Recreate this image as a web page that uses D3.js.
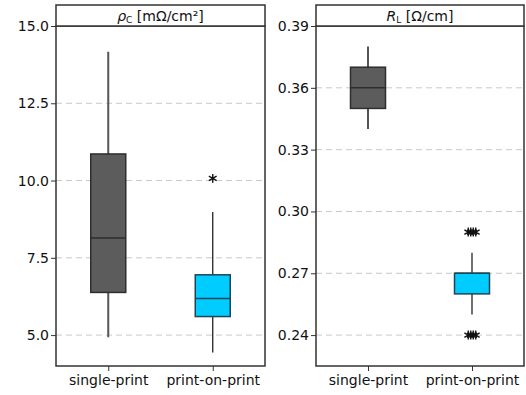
<!DOCTYPE html>
<html>
<head>
<meta charset="utf-8">
<script src="https://cdn.jsdelivr.net/npm/d3@7"></script>
<style>
  body { margin: 0; background: #fff; }
  svg { font-family: "DejaVu Sans", Verdana, sans-serif; }
</style>
</head>
<body>
<script>
// Categories on the x axis
var categories = ['single-print', 'print-on-print'];

// Contact resistivity rho_C [mOhm/cm2], box stats per category
var rhoLow  = [4.93, 4.44];
var rhoQ1   = [6.38, 5.60];
var rhoMed  = [8.14, 6.18];
var rhoQ3   = [10.86, 6.95];
var rhoHigh = [14.17, 8.98];
var rhoOut  = [[], [10.07]];
var rhoTicks = [5.0, 7.5, 10.0, 12.5, 15.0];

// Line resistance R_L [Ohm/cm], box stats per category
var rlLow  = [0.34, 0.25];
var rlQ1   = [0.35, 0.26];
var rlMed  = [0.36, 0.27];
var rlQ3   = [0.37, 0.27];
var rlHigh = [0.38, 0.28];
var rlOut  = [[], [0.29, 0.29, 0.29, 0.29, 0.24, 0.24, 0.24, 0.24]];
var rlTicks = [0.24, 0.27, 0.30, 0.33, 0.36, 0.39];

var fills = ['#5c5c5c', '#00ccff'];
var borders = ['#2e2e2e', '#1d4555'];
var whiskerColors = ['#555555', '#111111'];

var svg = d3.select('body').append('svg')
  .attr('width', 526)
  .attr('height', 395);

// Draw one panel with its header strip, grid, axis and boxes
function drawPanel(opts) {
  var x0 = opts.left, x1 = opts.right;
  var top = 26, bottom = 366, stripTop = 5;

  var x = d3.scalePoint().domain(categories).range([x0, x1]).padding(0.5);
  var y = d3.scaleLinear().domain(opts.domain).range([bottom, top]);

  var g = svg.append('g');

  // dashed grid lines
  g.selectAll('line.grid')
    .data(opts.ticks.filter(function(t) { return y(t) > top + 1; }))
    .enter().append('line')
    .attr('class', 'grid')
    .attr('x1', x0).attr('x2', x1)
    .attr('y1', function(t) { return y(t); })
    .attr('y2', function(t) { return y(t); })
    .attr('stroke', '#c8c8c8')
    .attr('stroke-width', 1)
    .attr('stroke-dasharray', '6,4');

  // y axis
  var yAxis = g.append('g')
    .attr('transform', 'translate(' + x0 + ',0)')
    .call(d3.axisLeft(y).tickValues(opts.ticks).tickFormat(d3.format(opts.fmt)).tickSize(5).tickSizeOuter(0));
  yAxis.select('.domain').remove();
  yAxis.selectAll('line').attr('stroke', '#333');
  yAxis.selectAll('text')
    .attr('font-size', 14)
    .attr('font-family', '"DejaVu Sans", Verdana, sans-serif')
    .attr('fill', '#111')
    .attr('x', -7);

  // x axis
  var xAxis = g.append('g')
    .attr('transform', 'translate(0,' + bottom + ')')
    .call(d3.axisBottom(x).tickSize(5).tickSizeOuter(0));
  xAxis.select('.domain').remove();
  xAxis.selectAll('line').attr('stroke', '#333');
  xAxis.selectAll('text')
    .attr('font-size', 14)
    .attr('font-family', '"DejaVu Sans", Verdana, sans-serif')
    .attr('fill', '#111')
    .attr('y', 9);

  var boxW = 35;
  var idx = d3.range(categories.length);

  // whiskers
  g.selectAll('line.whisker')
    .data(idx)
    .enter().append('line')
    .attr('class', 'whisker')
    .attr('x1', function(i) { return x(categories[i]); })
    .attr('x2', function(i) { return x(categories[i]); })
    .attr('y1', function(i) { return y(opts.low[i]); })
    .attr('y2', function(i) { return y(opts.high[i]); })
    .attr('stroke', function(i) { return whiskerColors[i]; })
    .attr('stroke-width', function(i) { return i === 0 ? 2 : 1.2; });

  // boxes
  g.selectAll('rect.box')
    .data(idx)
    .enter().append('rect')
    .attr('class', 'box')
    .attr('x', function(i) { return x(categories[i]) - boxW / 2; })
    .attr('y', function(i) { return y(opts.q3[i]); })
    .attr('width', boxW)
    .attr('height', function(i) { return y(opts.q1[i]) - y(opts.q3[i]); })
    .attr('fill', function(i) { return fills[i]; })
    .attr('stroke', function(i) { return borders[i]; })
    .attr('stroke-width', 1.5);

  // medians
  g.selectAll('line.median')
    .data(idx)
    .enter().append('line')
    .attr('class', 'median')
    .attr('x1', function(i) { return x(categories[i]) - boxW / 2; })
    .attr('x2', function(i) { return x(categories[i]) + boxW / 2; })
    .attr('y1', function(i) { return y(opts.med[i]); })
    .attr('y2', function(i) { return y(opts.med[i]); })
    .attr('stroke', function(i) { return borders[i]; })
    .attr('stroke-width', 1.5);

  // outliers as asterisks, nudged sideways when they pile up
  var outs = [];
  opts.out.forEach(function(vals, i) {
    var counts = {};
    vals.forEach(function(v) {
      var k = String(v);
      counts[k] = (counts[k] || 0) + 1;
      outs.push({ i: i, v: v, n: counts[k] });
    });
    outs.forEach(function(o) {
      if (o.i === i) o.total = counts[String(o.v)];
    });
  });
  g.selectAll('path.outlier')
    .data(outs)
    .enter().append('path')
    .attr('class', 'outlier')
    .attr('d', d3.symbol(d3.symbolAsterisk, 56))
    .attr('transform', function(o) {
      var dx = (o.n - 1 - (o.total - 1) / 2) * 2.5;
      return 'translate(' + (x(categories[o.i]) + dx) + ',' + y(o.v) + ')';
    })
    .attr('fill', 'none')
    .attr('stroke', '#111')
    .attr('stroke-width', 1.4);

  // panel frame
  g.append('rect')
    .attr('x', x0).attr('y', top)
    .attr('width', x1 - x0).attr('height', bottom - top)
    .attr('fill', 'none')
    .attr('stroke', '#333')
    .attr('stroke-width', 1.5);

  // header strip
  g.append('rect')
    .attr('x', x0).attr('y', stripTop)
    .attr('width', x1 - x0).attr('height', top - stripTop)
    .attr('fill', '#fff')
    .attr('stroke', '#333')
    .attr('stroke-width', 1.5);

  var title = g.append('text')
    .attr('x', (x0 + x1) / 2)
    .attr('y', 21)
    .attr('text-anchor', 'middle')
    .attr('font-size', 14)
    .attr('fill', '#111');
  title.append('tspan').attr('font-style', 'italic').text(opts.sym);
  title.append('tspan').attr('font-size', 9).attr('dy', 2).text(opts.sub);
  title.append('tspan').attr('dy', -2).text(' ' + opts.unit);
}

drawPanel({
  left: 56, right: 265,
  domain: [4.0, 15.0],
  ticks: rhoTicks, fmt: '.1f',
  low: rhoLow, q1: rhoQ1, med: rhoMed, q3: rhoQ3, high: rhoHigh, out: rhoOut,
  sym: 'ρ', sub: 'C', unit: '[mΩ/cm²]'
});

drawPanel({
  left: 316, right: 524,
  domain: [0.225, 0.39],
  ticks: rlTicks, fmt: '.2f',
  low: rlLow, q1: rlQ1, med: rlMed, q3: rlQ3, high: rlHigh, out: rlOut,
  sym: 'R', sub: 'L', unit: '[Ω/cm]'
});
</script>
</body>
</html>
